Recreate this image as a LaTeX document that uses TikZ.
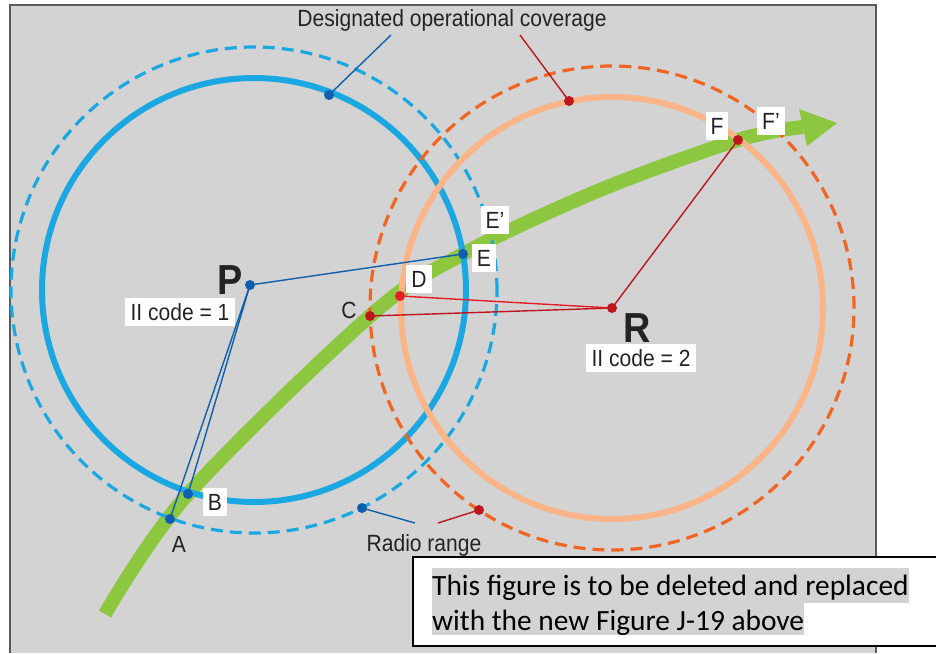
\documentclass[tikz,border=0pt]{standalone}
\usepackage{fontspec}
\setmainfont{Liberation Sans}
\newfontfamily\lab[FakeStretch=0.9]{Liberation Sans}
\newfontfamily\notefont{Carlito}
\definecolor{bg}{RGB}{211,211,211}
\definecolor{bord}{RGB}{90,90,90}
\definecolor{cyanb}{RGB}{27,168,226}
\definecolor{darkb}{RGB}{16,94,174}
\definecolor{peach}{RGB}{250,180,136}
\definecolor{orng}{RGB}{242,100,34}
\definecolor{dred}{RGB}{190,22,30}
\definecolor{lred}{RGB}{228,30,36}
\definecolor{grn}{RGB}{141,198,63}
\definecolor{txt}{RGB}{35,35,35}
\tikzset{
  bdot/.style={circle,fill=darkb,inner sep=0pt,minimum size=10pt},
  rdot/.style={circle,fill=dred,inner sep=0pt,minimum size=10pt},
  lbl/.style={fill=white,text=txt,inner xsep=5pt,inner ysep=0pt,minimum height=28pt,text height=17pt,text depth=0pt,font=\lab\fontsize{23.4}{25}\selectfont},
  plain/.style={text=txt,inner sep=0pt,text height=17pt,text depth=0pt,font=\lab\fontsize{23.4}{25}\selectfont},
  big/.style={text=txt,inner sep=0pt,text height=30pt,text depth=0pt,font=\lab\bfseries\fontsize{42}{44}\selectfont},
  solidc/.style={line width=6pt},
  dashc/.style={line width=3.2pt,dash pattern=on 12pt off 7pt},
  conn/.style={line width=1.4pt},
  notestyle/.style={fill=bg,anchor=base west,inner sep=0pt,text height=27pt,font=\notefont\fontsize{29.4}{35}\selectfont}
}
\begin{document}
\begin{tikzpicture}[x=1pt,y=-1pt]
\useasboundingbox (0,0) rectangle (936,653);
\fill[white] (0,0) rectangle (936,653);
\fill[bg] (10,5) rectangle (876,653);
\draw[bord,line width=2pt] (10,653) -- (10,5) -- (876,5) -- (876,653);

% flight path
\draw[grn,line width=14pt] plot[smooth,tension=0.55] coordinates {(105,614) (188,494) (370,316) (463,254) (600,190) (738,140) (803,127)};
\fill[grn] (837,123) -- (799,109) -- (807,146) -- cycle;

% coverage circles
\draw[cyanb,solidc] (254,290) circle (212pt);
\draw[cyanb,dashc] (254,290) circle (243pt);
\draw[peach,solidc] (612,308) circle (211pt);
\draw[orng,dashc] (612,308) circle (242pt);

% points
\coordinate (P) at (250,285);
\coordinate (R) at (612,308);
\coordinate (E) at (463,254);
\coordinate (B) at (188,494);
\coordinate (A) at (170,519);
\coordinate (C) at (370,316);
\coordinate (D) at (400,296);
\coordinate (F) at (738,140);
\coordinate (BT) at (329,95);
\coordinate (RT) at (569,101);
\coordinate (BR) at (362,508);
\coordinate (RR) at (479,510);
\coordinate (dl1) at (391,35);
\coordinate (dl2) at (520,35);
\coordinate (rl1) at (415,523);
\coordinate (rl2) at (438,523);

% connectors
\draw[darkb,conn] (P) -- (E);
\draw[darkb,conn] (P) -- (B);
\draw[darkb,conn] (P) -- (A);
\draw[dred,conn] (R) -- (C);
\draw[lred,conn] (R) -- (D);
\draw[dred,conn] (R) -- (F);
\draw[darkb,conn] (dl1) -- (BT);
\draw[dred,conn] (dl2) -- (RT);
\draw[darkb,conn] (BR) -- (rl1);
\draw[dred,conn] (rl2) -- (RR);

% dots
\node[bdot] (Pd) at (P) {};
\node[bdot] (Ed) at (E) {};
\node[bdot] (Bd) at (B) {};
\node[bdot] (Ad) at (A) {};
\node[bdot] (BTd) at (BT) {};
\node[bdot] (BRd) at (BR) {};
\node[rdot] (Rd) at (R) {};
\node[rdot] (Cd) at (C) {};
\node[rdot,fill=lred] (Dd) at (D) {};
\node[rdot] (Fd) at (F) {};
\node[rdot] (RTd) at (RT) {};
\node[rdot] (RRd) at (RR) {};

% labels
\node[plain] (title) at (452,18) {Designated operational coverage};
\node[plain] (radio) at (424,543) {Radio range};
\node[big] (Plab) at (230,279) {P};
\node[big] (Rlab) at (637,327) {R};
\node[lbl,minimum width=110pt] (Pcode) at (180,312) {II code = 1};
\node[lbl,minimum width=110pt] (Rcode) at (641,358) {II code = 2};
\node[lbl] (Elab) at (484,258) {E};
\node[lbl] (Eplab) at (495,220) {E’};
\node[lbl] (Dlab) at (419,279) {D};
\node[plain] (Clab) at (349,310) {C};
\node[lbl] (Flab) at (717,126) {F};
\node[lbl] (Fplab) at (771,121) {F’};
\node[lbl] (Blab) at (215,502) {B};
\node[plain] (Alab) at (179,544) {A};

% note box
\draw[black,line width=1.3pt,fill=white] (413,557) rectangle (945,646);
\node[notestyle,text depth=8pt] (n1) at (432,595) {This figure is to be deleted and replaced};
\node[notestyle,text depth=5pt] (n2) at (432,630) {with the new Figure J-19 above};
\end{tikzpicture}
\end{document}
